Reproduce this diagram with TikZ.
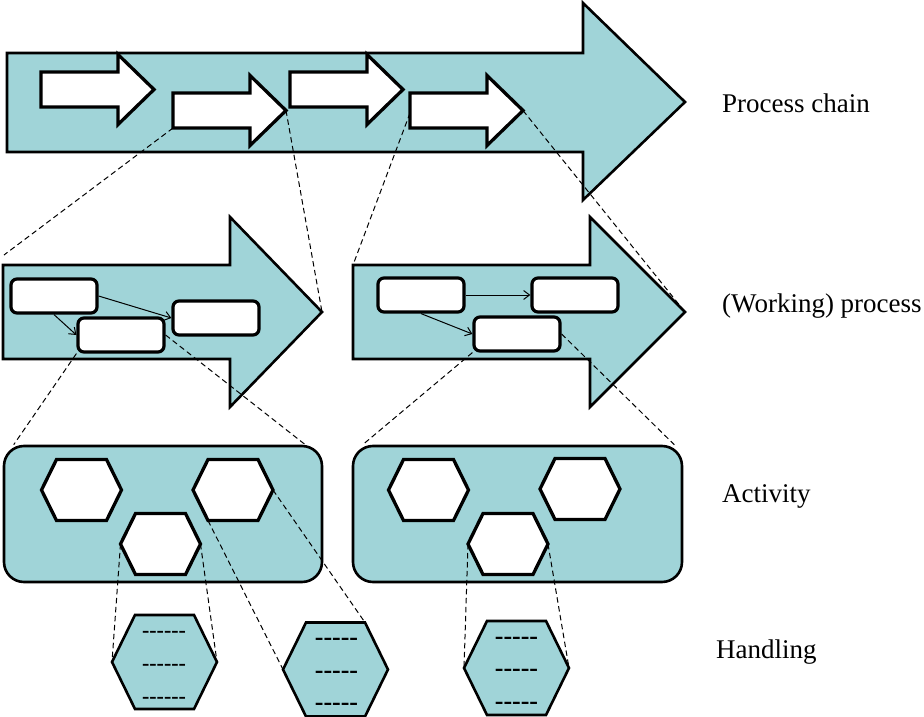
\documentclass[tikz,border=0pt]{standalone}
\usepackage{fontspec}
\setmainfont{Liberation Serif}
\usetikzlibrary{arrows.meta,calc}
\definecolor{tealfill}{RGB}{160,212,216}
\newcommand{\hy}{\mbox{-}}
\newcommand{\hexdraw}[7]{%
  \coordinate (#7) at (#2,#3);
  \coordinate (#7-l) at ({#2-#4},#3);
  \coordinate (#7-r) at ({#2+#4},#3);
  \coordinate (#7-tl) at ({#2-#5},{#3-#6});
  \coordinate (#7-tr) at ({#2+#5},{#3-#6});
  \coordinate (#7-bl) at ({#2-#5},{#3+#6});
  \coordinate (#7-br) at ({#2+#5},{#3+#6});
  \draw[#1] (#7-l) -- (#7-tl) -- (#7-tr) -- (#7-r) -- (#7-br) -- (#7-bl) -- cycle;}
\newcommand{\warrow}[3]{%
  \draw[whitearrow] (#1,#2) coordinate (#3-tl) -- ({#1+77},#2) -- ({#1+77},{#2-17.5})
    -- ({#1+113},{#2+17.5}) coordinate (#3-tip) -- ({#1+77},{#2+52.5}) -- ({#1+77},{#2+35})
    -- (#1,{#2+35}) coordinate (#3-bl) -- cycle;}
\newcommand{\wparrow}[4]{%
  \draw[bigshape] (#1,265) coordinate (#4-tl) -- (#2,265) -- (#2,217) -- (#3,312) coordinate (#4-tip)
    -- (#2,407) -- (#2,359) -- (#1,359) -- cycle;}
\tikzset{
  bigshape/.style={draw=black, fill=tealfill, line width=2.6pt, line join=miter},
  whitearrow/.style={draw=black, fill=white, line width=3.3pt, line join=miter},
  pbox/.style={draw=black, fill=white, line width=3.2pt, rounded corners=6pt, minimum width=86pt, minimum height=34pt, inner sep=0pt},
  actbox/.style={draw=black, fill=tealfill, line width=2.6pt, rounded corners=20pt, minimum height=136pt, inner sep=0pt},
  acthex/.style={draw=black, fill=white, line width=3.3pt, line join=miter},
  handhex/.style={draw=black, fill=tealfill, line width=2.6pt, line join=miter},
  flow/.style={line width=1pt, -{Straight Barb[length=6pt,width=9pt]}},
  zoomline/.style={line width=1pt, dash pattern=on 5.5pt off 3.5pt},
  lbl/.style={anchor=base west, inner sep=0pt, font=\fontsize{27}{27}\selectfont},
  dashtxt/.style={anchor=base, inner sep=0pt, font=\fontsize{26}{26}\selectfont\bfseries},
  dashtxtsmall/.style={anchor=base, inner sep=0pt, font=\fontsize{22}{22}\selectfont\bfseries}
}
\begin{document}
\begin{tikzpicture}[x=1pt,y=-1pt]
\useasboundingbox (0,0) rectangle (924,717);
% Process chain
\draw[bigshape] (7,53) coordinate (pc-tl) -- (583,53) -- (583,3) -- (685,102) coordinate (pc-tip)
  -- (583,200) -- (583,152) -- (7,152) -- cycle;
\warrow{41}{72}{a1}
\warrow{173}{93}{a2}
\warrow{290}{72}{a3}
\warrow{410}{93}{a4}
\coordinate (a4-l) at (410,113);
% Working processes
\wparrow{3}{230}{322}{wl}
\wparrow{353}{590}{685}{wr}
\node[pbox] (A) at (54,296) {};
\node[pbox] (B) at (121,335) {};
\node[pbox] (C) at (216,318) {};
\node[pbox] (D) at (421,295) {};
\node[pbox] (E) at (575,295) {};
\node[pbox] (F) at (517,334) {};
\draw[flow] (A.east) -- (C.west);
\draw[flow] (A.south) -- (B.west);
\draw[flow] (D.east) -- (E.west);
\draw[flow] (D.south) -- (F.west);
% Activities
\node[actbox, minimum width=318pt] (act1) at (163,514) {};
\node[actbox, minimum width=329pt] (act2) at (517.5,514) {};
\hexdraw{acthex}{81.5}{490}{40}{25}{30.5}{h1}
\hexdraw{acthex}{233}{490}{40}{25}{30.5}{h2}
\hexdraw{acthex}{160.5}{544}{40}{25}{30.5}{h3}
\hexdraw{acthex}{428.5}{490}{40}{25}{30.5}{h4}
\hexdraw{acthex}{580}{489}{40}{25}{30.5}{h5}
\hexdraw{acthex}{508}{544}{40}{25}{30.5}{h6}
% Handlings
\hexdraw{handhex}{164.5}{662}{52.5}{29.5}{47}{ha}
\hexdraw{handhex}{335.5}{669.5}{52.5}{29.5}{47}{hb}
\hexdraw{handhex}{516.5}{668}{52.5}{29.5}{47}{hc}
\node[dashtxtsmall] (ha1) at (164,637) {\hy\hy\hy\hy\hy\hy};
\node[dashtxtsmall] (ha2) at (164,670) {\hy\hy\hy\hy\hy\hy};
\node[dashtxtsmall] (ha3) at (164,703) {\hy\hy\hy\hy\hy\hy};
\node[dashtxt] (hb1) at (336.5,645) {\hy\hy\hy\hy\hy};
\node[dashtxt] (hb2) at (336.5,678) {\hy\hy\hy\hy\hy};
\node[dashtxt] (hb3) at (336.5,710) {\hy\hy\hy\hy\hy};
\node[dashtxt] (hc1) at (516.5,644) {\hy\hy\hy\hy\hy};
\node[dashtxt] (hc2) at (516.5,676) {\hy\hy\hy\hy\hy};
\node[dashtxt] (hc3) at (516.5,709) {\hy\hy\hy\hy\hy};
% end points of zoom lines
\coordinate (wl-far) at (4,255);
\coordinate (act1-l) at ($(act1.north west)+(11,0)$);
\coordinate (act1-r) at ($(act1.north east)+(-18,0)$);
\coordinate (act2-l) at ($(act2.north west)+(11,0)$);
\coordinate (act2-r) at ($(act2.north east)+(-9,0)$);
% zoom lines
\draw[zoomline] (a2-bl) -- (wl-far);
\draw[zoomline] (a2-tip) -- (wl-tip);
\draw[zoomline] (a4-l) -- (wr-tl);
\draw[zoomline] (a4-tip) -- (wr-tip);
\draw[zoomline] (B.south west) -- (act1-l);
\draw[zoomline] (B.east) -- (act1-r);
\draw[zoomline] (F.south west) -- (act2-l);
\draw[zoomline] (F.east) -- (act2-r);
\draw[zoomline] (h3-l) -- (ha-l);
\draw[zoomline] (h3-r) -- (ha-r);
\draw[zoomline] (h2-bl) -- (hb-l);
\draw[zoomline] (h2-r) -- (hb-tr);
\draw[zoomline] (h6-l) -- (hc-l);
\draw[zoomline] (h6-r) -- (hc-r);
% labels
\node[lbl] (l1) at (722,112) {Process chain};
\node[lbl] (l2) at (722,312) {(Working) process};
\node[lbl] (l3) at (722,502) {Activity};
\node[lbl] (l4) at (716,658) {Handling};
\end{tikzpicture}
\end{document}
